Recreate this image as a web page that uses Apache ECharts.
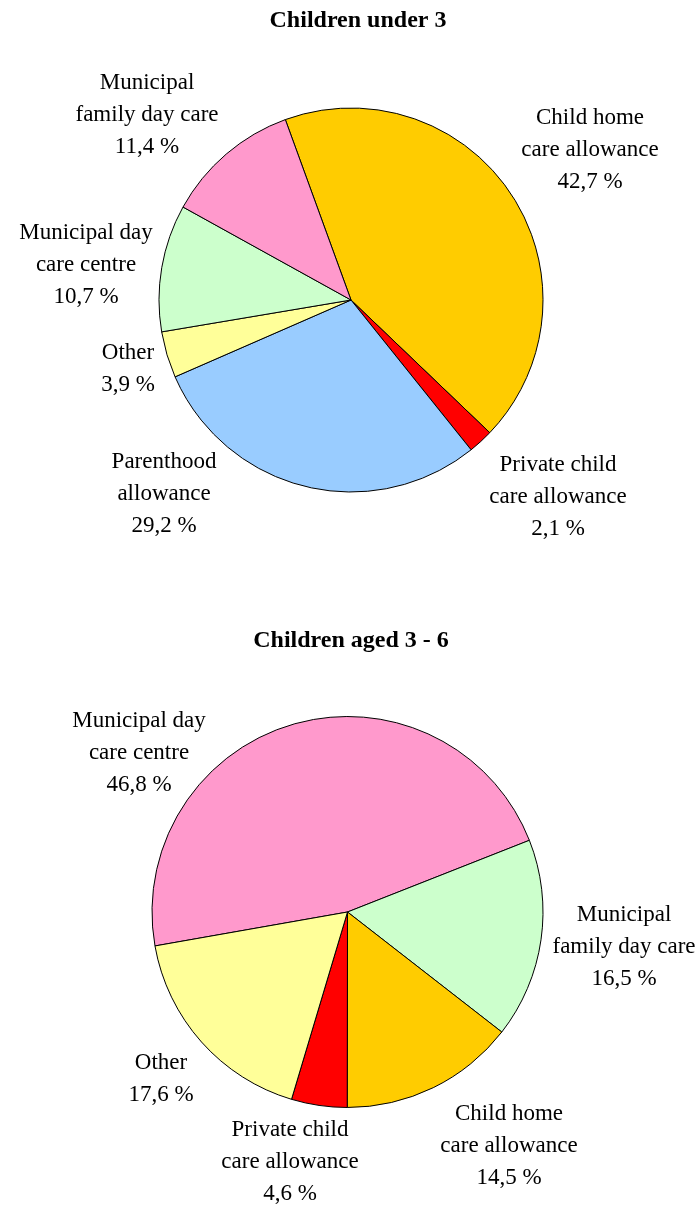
<!DOCTYPE html>
<html>
<head>
<meta charset="utf-8">
<script src="https://cdn.jsdelivr.net/npm/echarts@6/dist/echarts.min.js"></script>
<style>
html,body{margin:0;padding:0;background:#fff;}
#chart{width:699px;height:1207px;}
</style>
</head>
<body>
<div id="chart"></div>
<script>
// ---- Data ----
const titleUnder3 = 'Children under 3';
const namesUnder3 = ['Child home\ncare allowance', 'Private child\ncare allowance', 'Parenthood\nallowance', 'Other', 'Municipal day\ncare centre', 'Municipal\nfamily day care'];
const valuesUnder3 = [42.7, 2.1, 29.2, 3.9, 10.7, 11.4];
const colorsUnder3 = ['#FFCC00', '#FF0000', '#99CCFF', '#FFFF99', '#CCFFCC', '#FF99CC'];

const titleAged3to6 = 'Children aged 3 - 6';
const namesAged3to6 = ['Municipal day\ncare centre', 'Municipal\nfamily day care', 'Child home\ncare allowance', 'Private child\ncare allowance', 'Other'];
const valuesAged3to6 = [46.8, 16.5, 14.5, 4.6, 17.6];
const colorsAged3to6 = ['#FF99CC', '#CCFFCC', '#FFCC00', '#FF0000', '#FFFF99'];

// ---- Layout (label anchor centres, px) ----
const labelPosUnder3 = [[590, 150], [558, 497], [164, 494], [128, 369], [86, 265], [147, 115]];
const labelPosAged3to6 = [[139, 753], [624, 947], [509, 1146], [290, 1162], [161, 1079]];

const FONT = "'Liberation Serif', 'Times New Roman', serif";

function fmt(p) {
  return p.name + '\n' + Number(p.value).toFixed(1).replace('.', ',') + ' %';
}

function makeSeries(names, values, colors, center, radius, startAngle, labelPos) {
  return {
    type: 'pie',
    center: center,
    radius: radius,
    startAngle: startAngle,
    clockwise: true,
    avoidLabelOverlap: false,
    minAngle: 0,
    silent: true,
    emphasis: { disabled: true },
    itemStyle: { borderColor: '#000', borderWidth: 1 },
    label: {
      show: true,
      position: 'outside',
      formatter: fmt,
      fontFamily: FONT,
      fontSize: 23,
      lineHeight: 32,
      color: '#000',
      align: 'center'
    },
    labelLine: { show: false },
    labelLayout: function (params) {
      const pos = labelPos[params.dataIndex];
      return { x: pos[0], y: pos[1], align: 'center', verticalAlign: 'middle' };
    },
    data: names.map((n, i) => ({ name: n, value: values[i], itemStyle: { color: colors[i] } }))
  };
}

const chart = echarts.init(document.getElementById('chart'), null, { renderer: 'canvas' });
chart.setOption({
  animation: false,
  backgroundColor: '#fff',
  title: [
    {
      text: titleUnder3, left: 358, top: 9, textAlign: 'center', padding: 0,
      textStyle: { fontFamily: FONT, fontSize: 24, fontWeight: 'bold', color: '#000' }
    },
    {
      text: titleAged3to6, left: 351, top: 629, textAlign: 'center', padding: 0,
      textStyle: { fontFamily: FONT, fontSize: 24, fontWeight: 'bold', color: '#000' }
    }
  ],
  series: [
    makeSeries(namesUnder3, valuesUnder3, colorsUnder3, [351, 300], 192, 110, labelPosUnder3),
    makeSeries(namesAged3to6, valuesAged3to6, colorsAged3to6, [347.5, 912], 195.5, 190, labelPosAged3to6)
  ]
});
</script>
</body>
</html>
